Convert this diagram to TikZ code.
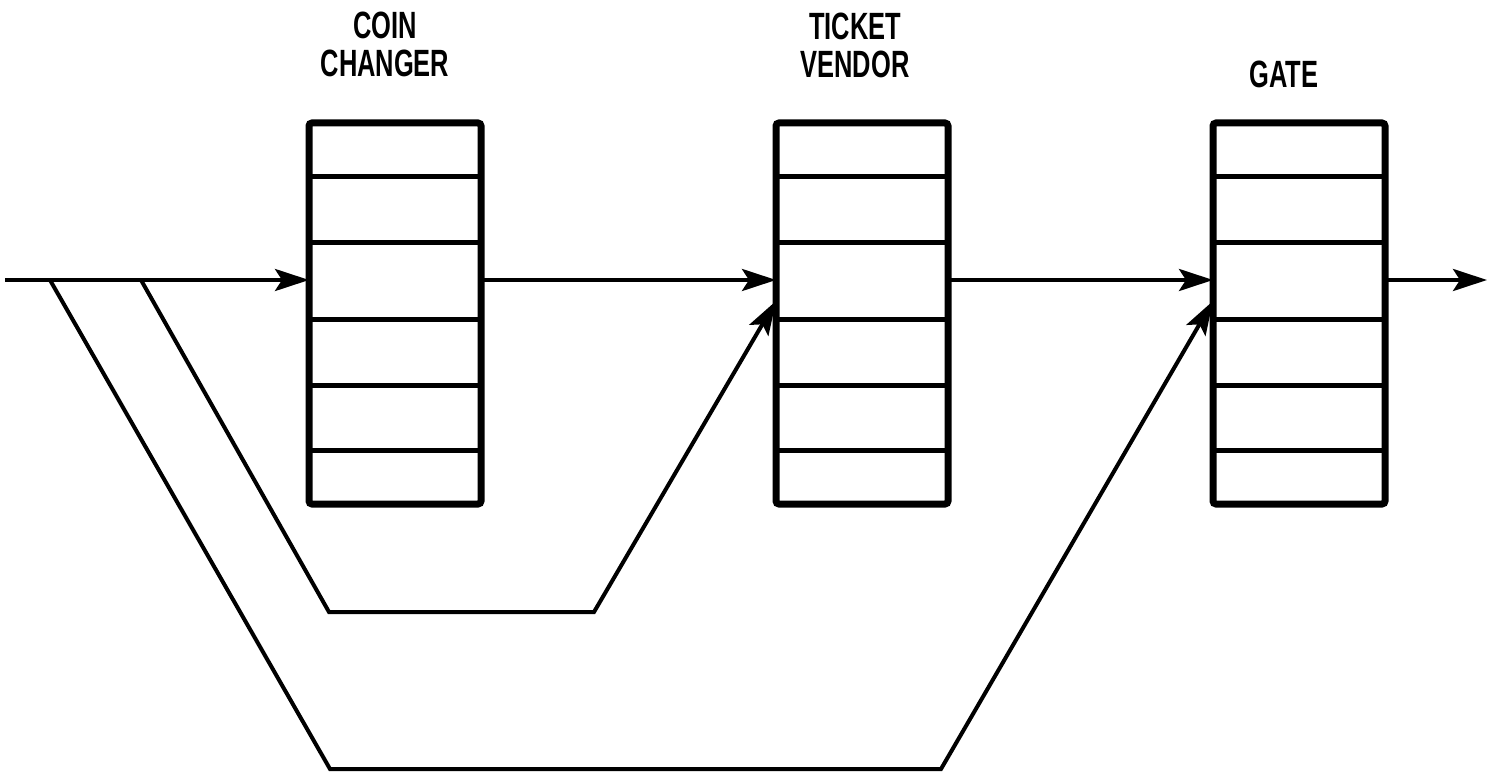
\documentclass[tikz,border=0pt]{standalone}
\usepackage{fontspec}
\newfontfamily\narrowsans[FakeStretch=0.67]{Liberation Sans}
\usetikzlibrary{arrows.meta}
\tikzset{
  queue/.style={draw, line width=7pt, rounded corners=3pt, minimum width=172pt, minimum height=381pt, inner sep=0pt, outer sep=0pt},
  divider/.style={line width=5pt},
  flow/.style={line width=4pt, -{Stealth[length=34pt,width=22pt,inset=7pt]}},
  pathline/.style={line width=4pt, line join=miter},
  title/.style={font=\narrowsans\bfseries\fontsize{38}{38}\selectfont, align=center, anchor=north, inner sep=0pt}
}
\begin{document}
\begin{tikzpicture}[x=1pt,y=-1pt]
\useasboundingbox (0,0) rectangle (1488,775);
% queues
\node[queue] (q1) at (395,313.5) {};
\node[queue] (q2) at (862,313.5) {};
\node[queue] (q3) at (1299,313.5) {};
\foreach \q in {q1,q2,q3}{
  \foreach \d in {177,243,320,385,450}{
    \draw[divider] (\q.west |- 0,\d) -- (\q.east |- 0,\d);
  }
  \coordinate (\q in) at (\q.west |- 0,280);
  \coordinate (\q out) at (\q.east |- 0,280);
  \coordinate (\q side) at (\q.west |- 0,301);
}
% titles
\node[title] (t1) at (385,12) {COIN\\CHANGER};
\node[title] (t2) at (855,13) {TICKET\\VENDOR};
\node[title] (t3) at (1284,61) {GATE};
% main flow
\coordinate (start) at (5,280);
\coordinate (j1) at (50,280);
\coordinate (j2) at (141,280);
\coordinate (finish) at (1487,280);
\draw[flow] (start) -- (q1in);
\draw[flow] (q1out) -- (q2in);
\draw[flow] (q2out) -- (q3in);
\draw[flow] (q3out) -- (finish);
% bypass branches
\coordinate (b1l) at (329,612);
\coordinate (b1r) at (594,612);
\coordinate (b2l) at (330,769);
\coordinate (b2r) at (941,769);
\draw[flow] (j2) -- (b1l) -- (b1r) -- (q2side);
\draw[flow] (j1) -- (b2l) -- (b2r) -- (q3side);
\end{tikzpicture}
\end{document}
